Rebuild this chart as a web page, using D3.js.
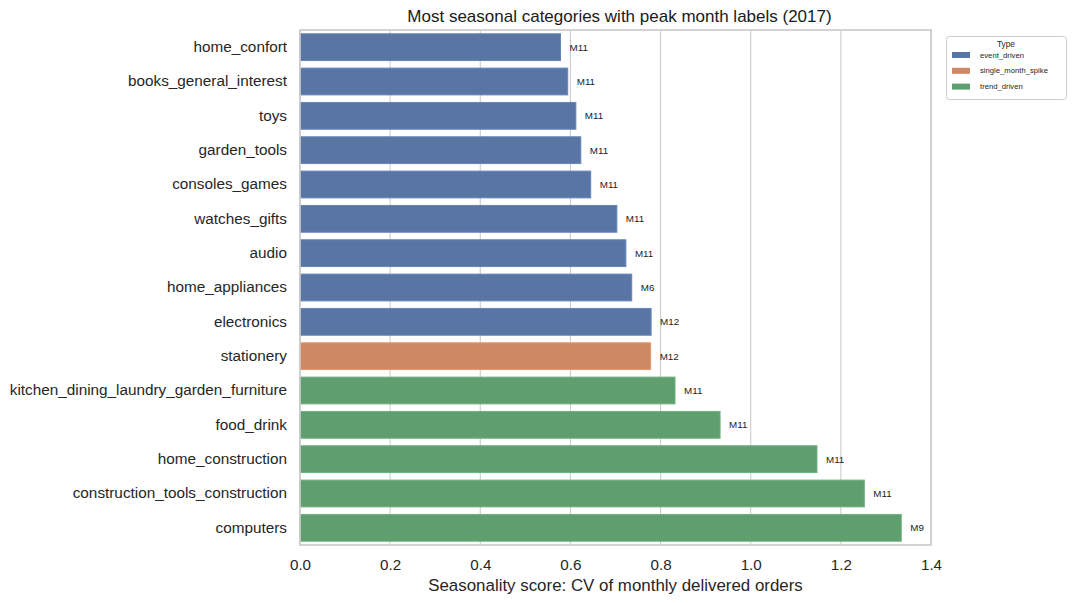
<!DOCTYPE html>
<html><head><meta charset="utf-8">
<script src="https://cdn.jsdelivr.net/npm/d3@7"></script>
<style>body{margin:0;background:#fff}svg{display:block;font-family:"Liberation Sans",Arial,sans-serif}</style>
</head><body><svg id="c" width="1079" height="603"></svg>
<script>
const categories = ["home_confort","books_general_interest","toys","garden_tools","consoles_games","watches_gifts","audio","home_appliances","electronics","stationery","kitchen_dining_laundry_garden_furniture","food_drink","home_construction","construction_tools_construction","computers"];
const scores = [0.578,0.594,0.612,0.623,0.645,0.703,0.723,0.736,0.779,0.778,0.832,0.932,1.147,1.252,1.334];
const peakMonths = ["M11","M11","M11","M11","M11","M11","M11","M6","M12","M12","M11","M11","M11","M11","M9"];
const types = ["event_driven","event_driven","event_driven","event_driven","event_driven","event_driven","event_driven","event_driven","event_driven","single_month_spike","trend_driven","trend_driven","trend_driven","trend_driven","trend_driven"];
const typeNames = ["event_driven","single_month_spike","trend_driven"];
const typeColors = ["#5975a4","#cc8963","#5f9e6e"];
const xTicks = [0,0.2,0.4,0.6,0.8,1.0,1.2,1.4];

const svg = d3.select("#c");
const L=300,R=931,T=30,B=545;
const x = d3.scaleLinear().domain([0,1.4]).range([L,R]);
const y = d3.scaleBand().domain(categories).range([T,B]).paddingInner(0.22).paddingOuter(0.11);
const color = d3.scaleOrdinal().domain(typeNames).range(typeColors);

// grid
svg.append("g").selectAll("line").data(xTicks).join("line")
  .attr("x1",d=>x(d)).attr("x2",d=>x(d)).attr("y1",T).attr("y2",B)
  .attr("stroke","#cccccc").attr("stroke-width",1.1);

const data = categories.map((c,i)=>({c,v:scores[i],m:peakMonths[i],t:types[i]}));
svg.append("g").selectAll("rect").data(data).join("rect")
  .attr("x",x(0)).attr("y",d=>y(d.c)).attr("width",d=>x(d.v)-x(0)).attr("height",y.bandwidth())
  .attr("fill",d=>color(d.t)).attr("stroke",d=>d3.color(color(d.t)).brighter(0.35)).attr("stroke-width",1);

svg.append("g").selectAll("text").data(data).join("text")
  .attr("x",d=>x(d.v+0.02)).attr("y",d=>y(d.c)+y.bandwidth()/2).attr("dy","0.35em")
  .attr("font-size","9.8px").attr("fill","#222").text(d=>d.m);

// frame
svg.append("rect").attr("x",L).attr("y",T).attr("width",R-L).attr("height",B-T)
  .attr("fill","none").attr("stroke","#cccccc").attr("stroke-width",1.7);

// axes
const xa = svg.append("g").attr("transform",`translate(0,${B})`)
  .call(d3.axisBottom(x).tickValues(xTicks).tickFormat(d3.format(".1f")).tickSize(0).tickPadding(14));
xa.select(".domain").remove();
xa.selectAll("text").attr("font-size","15.2px").attr("fill","#262626").attr("font-family","Liberation Sans, Arial, sans-serif");
const ya = svg.append("g").attr("transform",`translate(${L},0)`)
  .call(d3.axisLeft(y).tickSize(0).tickPadding(13));
ya.select(".domain").remove();
ya.selectAll("text").attr("font-size","15.3px").attr("fill","#262626").attr("font-family","Liberation Sans, Arial, sans-serif");

svg.append("text").attr("x",(L+R)/2+4).attr("y",22).attr("text-anchor","middle")
  .attr("font-size","17px").attr("fill","#1a1a1a").text("Most seasonal categories with peak month labels (2017)");
svg.append("text").attr("x",(L+R)/2).attr("y",591).attr("text-anchor","middle")
  .attr("font-size","16.9px").attr("fill","#262626").text("Seasonality score: CV of monthly delivered orders");

// legend
const lg = svg.append("g");
lg.append("rect").attr("x",946.5).attr("y",36.5).attr("width",120).attr("height",63).attr("rx",3)
  .attr("fill","#fff").attr("stroke","#cccccc").attr("stroke-width",1);
lg.append("text").attr("x",1006).attr("y",47).attr("text-anchor","middle").attr("font-size","8.3px").attr("fill","#262626").text("Type");
typeNames.forEach((n,i)=>{
  lg.append("rect").attr("x",952).attr("y",52+i*15.8).attr("width",18).attr("height",6).attr("fill",color(n));
  lg.append("text").attr("x",980).attr("y",55+i*15.8).attr("dy","0.35em").attr("font-size","7.7px").attr("fill","#262626").text(n);
});
</script></body></html>
